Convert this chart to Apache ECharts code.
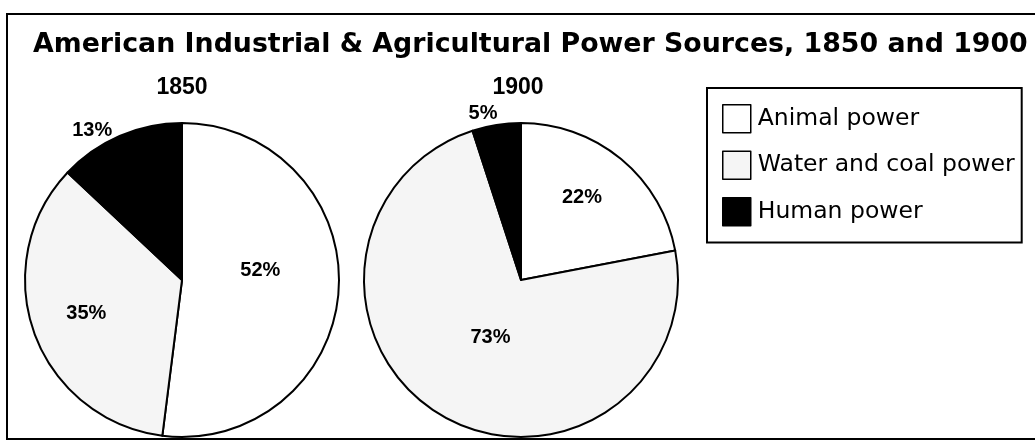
<!DOCTYPE html>
<html>
<head>
<meta charset="utf-8">
<script src="https://cdn.jsdelivr.net/npm/echarts@6/dist/echarts.min.js"></script>
<style>
  html, body { margin: 0; padding: 0; background: #fff; }
  #chart { width: 1035px; height: 446px; }
</style>
</head>
<body>
<div id="chart"></div>
<script>
  var sources = ["Animal power", "Water and coal power", "Human power"];
  var years = ["1850", "1900"];
  var shares1850 = [52, 35, 13];
  var shares1900 = [22, 73, 5];
  var sourceColors = ["#ffffff", "#f5f5f5", "#000000"];

  // label nudges, [dx, dy] per slice
  var nudge1850 = [[-3, -15], [-19, 6], [0, 0]];
  var nudge1900 = [[9, -20], [11, -13], [7, -6]];

  function pieData(values) {
    var out = [];
    for (var i = 0; i < values.length; i++) {
      var item = {
        name: sources[i],
        value: values[i],
        itemStyle: { color: sourceColors[i] }
      };
      if (sourceColors[i] === "#000000") {
        item.label = { position: "outside" };
      }
      out.push(item);
    }
    return out;
  }

  function pieSeries(year, values, centerX, nudge) {
    return {
      name: year,
      type: "pie",
      center: [centerX, 280],
      radius: 157,
      startAngle: 90,
      clockwise: true,
      avoidLabelOverlap: false,
      silent: true,
      itemStyle: { borderColor: "#000", borderWidth: 2 },
      label: {
        show: true,
        position: "inside",
        formatter: "{c}%",
        color: "#000",
        fontFamily: "Liberation Sans",
        fontWeight: "bold",
        fontSize: 20
      },
      labelLine: { show: false, length: 6, length2: 0 },
      labelLayout: function (params) {
        var n = nudge[params.dataIndex];
        return { dx: n[0], dy: n[1] };
      },
      data: pieData(values)
    };
  }

  var chartDom = document.getElementById("chart");
  var myChart = echarts.init(chartDom, null, { renderer: "canvas" });
  var option;

  option = {
    animation: false,
    backgroundColor: "#fff",
    title: [
      {
        text: "American Industrial & Agricultural Power Sources, 1850 and 1900",
        left: 33,
        top: 32,
        padding: 0,
        textStyle: { fontFamily: "DejaVu Sans", fontWeight: "bold", fontSize: 26.8, color: "#000" }
      },
      {
        text: years[0],
        left: 182,
        textAlign: "center",
        top: 76,
        padding: 0,
        textStyle: { fontFamily: "Liberation Sans", fontWeight: "bold", fontSize: 23, color: "#000" }
      },
      {
        text: years[1],
        left: 518,
        textAlign: "center",
        top: 76,
        padding: 0,
        textStyle: { fontFamily: "Liberation Sans", fontWeight: "bold", fontSize: 23, color: "#000" }
      }
    ],
    legend: {
      orient: "vertical",
      left: 707,
      top: 88,
      padding: [16, 7, 16, 15],
      borderColor: "#000",
      borderWidth: 2,
      itemWidth: 28,
      itemHeight: 28,
      itemGap: 17,
      selectedMode: false,
      icon: "rect",
      itemStyle: { borderColor: "#000", borderWidth: 1.5 },
      textStyle: { fontFamily: "DejaVu Sans", fontSize: 23.5, color: "#000", padding: [0, 0, 0, 2] },
      data: sources
    },
    graphic: [
      {
        type: "rect",
        shape: { x: 7, y: 14, width: 1040, height: 425 },
        style: { fill: null, stroke: "#000", lineWidth: 2 },
        silent: true
      }
    ],
    series: [
      pieSeries(years[0], shares1850, 182, nudge1850),
      pieSeries(years[1], shares1900, 521, nudge1900)
    ]
  };
  option && myChart.setOption(option);
</script>
</body>
</html>
